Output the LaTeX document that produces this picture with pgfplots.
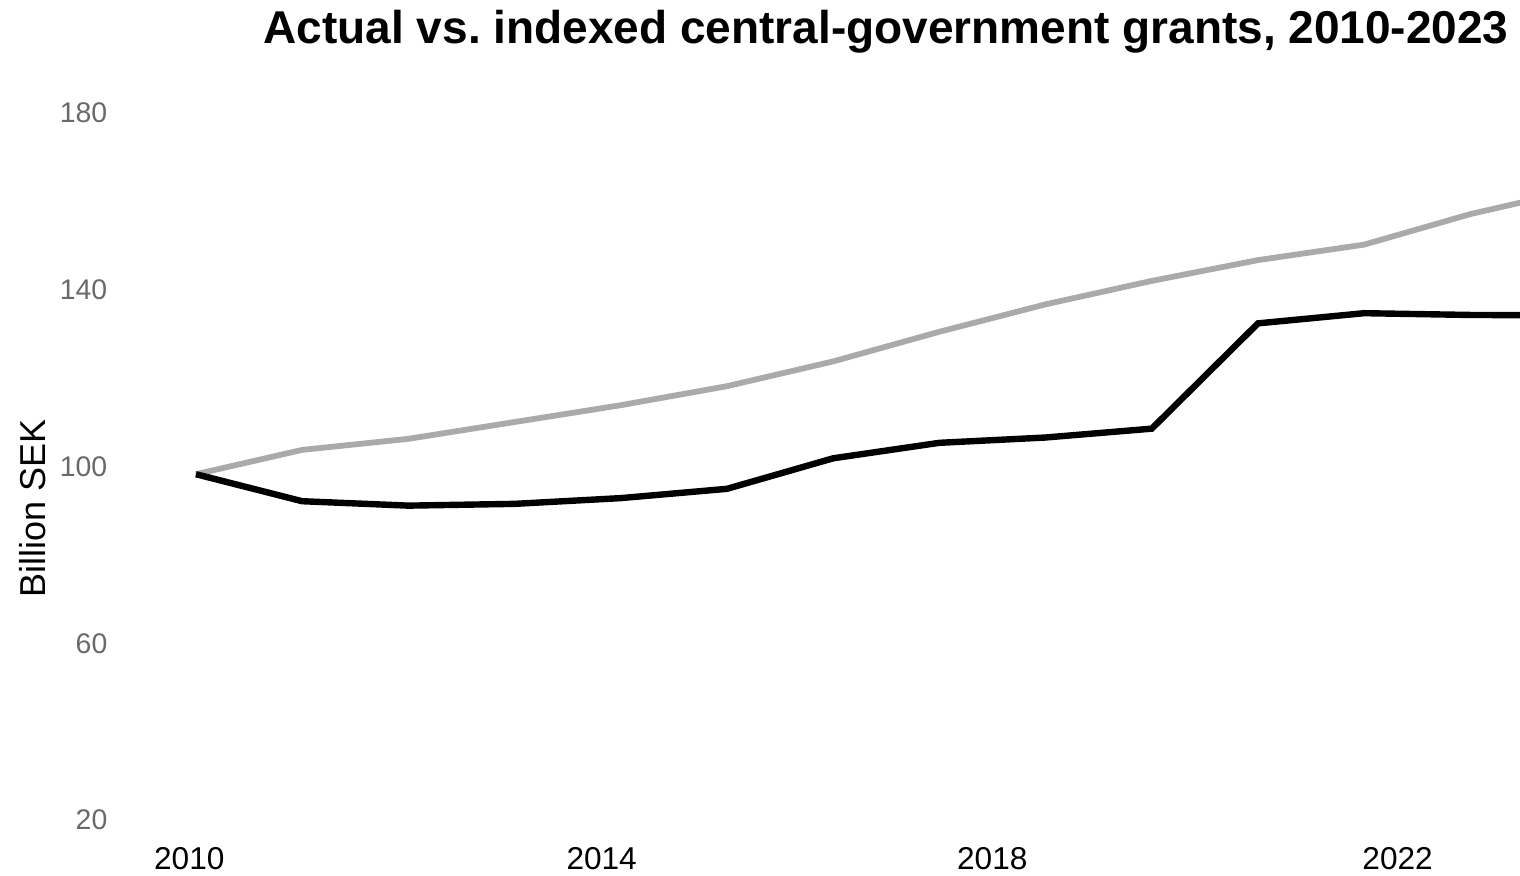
\documentclass[border=0pt]{standalone}
\usepackage{fontspec}
\setmainfont{Liberation Sans}
\usepackage{pgfplots}
\pgfplotsset{compat=1.18}
\definecolor{idxgray}{RGB}{170,170,170}
\definecolor{tickgray}{RGB}{105,105,105}
\frenchspacing
\begin{document}
\begin{tikzpicture}
\useasboundingbox (0,0) rectangle (760pt,437.5pt);
\clip (0,0) rectangle (760pt,437.5pt);
\begin{axis}[
  at={(55.5pt,16.35pt)}, anchor=south west,
  x=53.1pt, y=2.212pt,
  xmin=2009.2, xmax=2023, ymin=15, ymax=185,
  axis line style={draw=none},
  tick style={draw=none},
  major tick length=0pt,
  xtick={2009.937,2013.820,2017.498,2021.315},
  xticklabels={2010,2014,2018,2022},
  ytick={20,60,100,140,180},
  /pgf/number format/assume math mode=true,
  yticklabel style={font=\fontsize{14.2}{17}\selectfont, text=tickgray, anchor=east, inner sep=0pt, xshift=-1.65pt},
  xticklabel style={font=\fontsize{15.8}{19}\selectfont, text=black, anchor=north, inner sep=0pt, yshift=-2.2pt},
  ylabel={Billion SEK},
  ylabel style={at={(axis description cs:-0.04503,0.4436)}, anchor=base, font=\fontsize{18}{21}\selectfont},
  title={Actual vs.\ indexed central-government grants, 2010-2023},
  every axis title shift=0pt,
  title style={at={(axis description cs:0.5289,1.0625)}, anchor=base, yshift=0pt, font=\fontsize{23}{27}\selectfont\bfseries},
  clip=true,
]
\addplot[color=idxgray, line width=2.9pt] coordinates {
(2010,98.2) (2011,103.7) (2012,106.2) (2013,110.0) (2014,113.8) (2015,118.1) (2016,123.7)
(2017,130.4) (2018,136.6) (2019,141.9) (2020,146.6) (2021,150.1) (2022,157.0) (2023,162.5)
};
\addplot[color=black, line width=3.2pt] coordinates {
(2010,98.2) (2011,92.1) (2012,91.1) (2013,91.5) (2014,92.8) (2015,94.9) (2016,101.8)
(2017,105.3) (2018,106.5) (2019,108.5) (2020,132.3) (2021,134.6) (2022,134.2) (2023,134.1)
};
\end{axis}
\end{tikzpicture}
\end{document}
